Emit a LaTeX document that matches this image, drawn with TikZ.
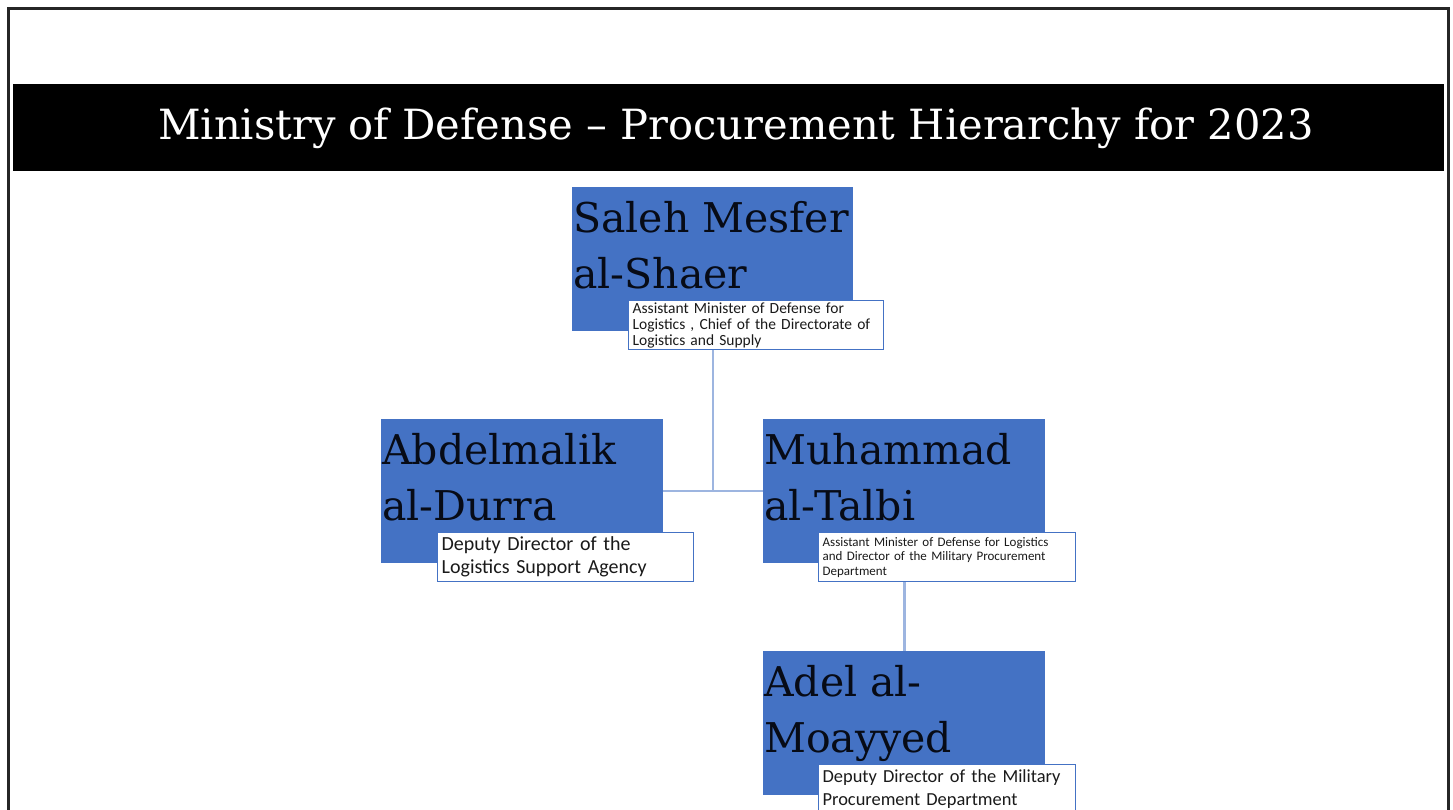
\documentclass[tikz,border=0pt]{standalone}
\usepackage{fontspec}
\setmainfont{DejaVu Serif}
\newfontfamily\labfont{Carlito}
\definecolor{boxblue}{HTML}{4472C4}
\definecolor{linkblue}{HTML}{9DB5E0}
\definecolor{nameink}{HTML}{070B16}
\definecolor{labink}{HTML}{1A1A1A}
\tikzset{
  bluebox/.style={fill=boxblue, draw=none, inner sep=0pt, anchor=north west},
  nametext/.style={anchor=north west, inner sep=0pt, align=left, text=nameink,
    font=\fontsize{41}{56}\selectfont},
  labelbox/.style={draw=boxblue, line width=1.3pt, fill=white, anchor=north west,
    inner xsep=4pt, inner ysep=0pt, align=left, text=labink},
  link/.style={draw=linkblue, line width=2.8pt},
}
\begin{document}
\begin{tikzpicture}[x=1pt,y=-1pt]
\useasboundingbox (0,0) rectangle (1453,809);
\fill[white] (0,0) rectangle (1453,809);
% outer frame
\draw[line width=3pt, black!85] (8,815) -- (8,8) -- (1448,8) -- (1448,815);
% title bar
\node (bar) [fill=black, inner sep=0pt, minimum width=1431pt, minimum height=87pt, anchor=north west] at (13,84) {};
\node (title) [text=white, font=\fontsize{41.6}{48}\selectfont, inner sep=0pt] at (736,128) {Ministry of Defense -- Procurement Hierarchy for 2023};

% boxes
\node (b1) [bluebox, minimum width=281pt, minimum height=144pt] at (572,187) {};
\node (b1t) [nametext] at (573,201) {Saleh Mesfer\\al-Shaer};
\node (l1) [labelbox, minimum width=255pt, minimum height=49pt, text width=247pt,
  font=\labfont\fontsize{15.5}{16}\selectfont] at (628,300)
  {Assistant Minister of Defense for\\Logistics , Chief of the Directorate of\\Logistics and Supply};

\node (b2) [bluebox, minimum width=282pt, minimum height=144pt] at (381,419) {};
\node (b2t) [nametext] at (382,433) {Abdelmalik\\al-Durra};
\node (l2) [labelbox, minimum width=256pt, minimum height=49pt, text width=248pt,
  font=\labfont\fontsize{20}{23}\selectfont] at (437,532)
  {Deputy Director of the\\Logistics Support Agency};

\node (b3) [bluebox, minimum width=282pt, minimum height=144pt] at (763,419) {};
\node (b3t) [nametext] at (764,433) {Muhammad\\al-Talbi};
\node (l3) [labelbox, minimum width=257pt, minimum height=49pt, text width=249pt,
  font=\labfont\fontsize{13}{14.5}\selectfont] at (818,532)
  {Assistant Minister of Defense for Logistics\\and Director of the Military Procurement\\Department};

\node (b4) [bluebox, minimum width=282pt, minimum height=144pt] at (763,651) {};
\node (b4t) [nametext] at (764,665) {Adel al-\\Moayyed};
\node (l4) [labelbox, minimum width=257pt, minimum height=49pt, text width=249pt,
  font=\labfont\fontsize{18.4}{23}\selectfont] at (818,764)
  {Deputy Director of the Military\\Procurement Department};

% connectors
\coordinate (j) at (713,491);
\draw[link] (l1.south -| j) -- (j);
\draw[link] (b2.east |- j) -- (b3.west |- j);
\draw[link] (l3.south -| b4.north) -- (b4.north);
\end{tikzpicture}
\end{document}
